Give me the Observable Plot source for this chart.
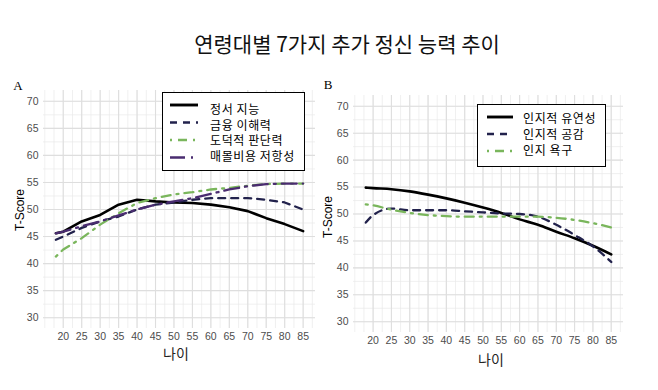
<!DOCTYPE html>
<html><head><meta charset="utf-8">
<script src="https://cdn.jsdelivr.net/npm/d3@7"></script>
<script src="https://cdn.jsdelivr.net/npm/@observablehq/plot@0.6"></script>
<style>
body{margin:0;background:#fff;}
#wrap{position:relative;width:658px;height:390px;overflow:hidden;background:#fff;font-family:"Noto Sans CJK KR","Noto Sans",sans-serif;}
.t{position:absolute;transform:translate(-50%,-50%);white-space:nowrap;line-height:1;}
.plot{position:absolute;}
.legend{position:absolute;background:#fff;border:1.5px solid #000;box-sizing:border-box;}
.lt{position:absolute;white-space:nowrap;line-height:1;transform:translateY(-50%);font-size:12px;letter-spacing:0.6px;color:#000;}
</style></head><body><div id="wrap"></div>
<script>
// ---- data ----
const ages = [18,20,25,30,35,40,45,50,55,60,65,70,75,80,85];
const xTickLabels = [20,25,30,35,40,45,50,55,60,65,70,75,80,85];
const yTickLabels = [30,35,40,45,50,55,60,65,70];

// Panel A
const seriesA = ["정서 지능","금융 이해력","도덕적 판단력","매몰비용 저항성"];
const emotionalIntelligence = [45.6,45.9,47.8,49.0,50.9,51.8,51.5,51.3,51.2,50.9,50.4,49.7,48.4,47.3,46.0];
const financialLiteracy    = [44.4,45.0,46.6,47.8,48.7,50.0,50.9,51.3,51.8,52.1,52.1,52.1,51.8,51.3,50.0];
const moralJudgment        = [41.3,42.6,44.7,47.2,49.3,51.2,52.1,52.8,53.2,53.7,54.0,54.4,54.7,54.8,54.8];
const sunkCostResistance   = [45.6,45.9,46.9,47.8,48.9,50.0,50.9,51.5,52.1,52.9,53.7,54.3,54.7,54.8,54.8];

// Panel B
const seriesB = ["인지적 유연성","인지적 공감","인지 욕구"];
const cognitiveFlexibility = [54.9,54.8,54.6,54.2,53.6,52.9,52.1,51.2,50.2,49.0,48.0,46.7,45.5,44.1,42.5];
const cognitiveEmpathy     = [48.4,49.8,51.0,50.7,50.7,50.7,50.5,50.3,50.1,50.0,49.5,48.0,46.1,44.0,41.1];
const needForCognition     = [51.8,51.6,50.8,50.2,49.8,49.6,49.5,49.5,49.5,49.5,49.5,49.3,48.9,48.3,47.5];

// ---- styles ----
const colors = ["#000000","#22224c","#7ab65c","#4a2c70"];
const dashes = [null,"7,6","2,6,9,6","15,6,2,6"];
const widths = [2.6,2.3,2.3,2.3];

function toRows(series, arrays){
  const rows=[];
  series.forEach((s,i)=>ages.forEach((a,j)=>rows.push({series:s,age:a,value:arrays[i][j]})));
  return rows;
}
const rowsA = toRows(seriesA,[emotionalIntelligence,financialLiteracy,moralJudgment,sunkCostResistance]);
const rowsB = toRows(seriesB,[cognitiveFlexibility,cognitiveEmpathy,needForCognition]);

const xMinor = d3.range(15,88.4,2.5);
const yMinor = d3.range(27.5,72.6,2.5).filter(v=>v>=28&&v<=72);

function panel(rows, series, m, w, h, curve){
  return Plot.plot({
    width:w, height:h,
    marginLeft:m[0], marginRight:m[1], marginTop:m[2], marginBottom:m[3],
    x:{domain:[14.65,88.35], ticks:xTickLabels, tickSize:0, tickPadding:4, label:null},
    y:{domain:[28,72], ticks:yTickLabels, tickSize:0, tickPadding:5, label:null},
    style:{fontFamily:"'Liberation Sans',Arial,sans-serif", fontSize:"10.5px", color:"#4d4d4d", background:"transparent", overflow:"visible"},
    marks:[
      Plot.gridX(xMinor,{stroke:"#e9e9e9",strokeOpacity:1,strokeWidth:0.7}),
      Plot.gridY(yMinor,{stroke:"#e9e9e9",strokeOpacity:1,strokeWidth:0.7}),
      Plot.gridX(xTickLabels,{stroke:"#dedede",strokeOpacity:1,strokeWidth:1.1}),
      Plot.gridY(yTickLabels,{stroke:"#dedede",strokeOpacity:1,strokeWidth:1.1}),
      ...series.map((s,i)=>Plot.line(rows.filter(d=>d.series===s),{
        x:"age", y:"value", stroke:colors[i], strokeWidth:widths[i],
        strokeDasharray:dashes[i], curve:curve
      }))
    ]
  });
}

const wrap = document.getElementById("wrap");
function addText(txt,x,y,style){
  const d=document.createElement("div");d.className="t";d.textContent=txt;
  d.style.left=x+"px";d.style.top=y+"px";Object.assign(d.style,style||{});wrap.appendChild(d);return d;
}

// Panel A: svg at left 0, top 80 ; frame 43..315 x, 90..328 y
const pA = panel(rowsA, seriesA, [43,10,10,42], 325, 290, "linear");
pA.classList.add("plot"); pA.style.left="0px"; pA.style.top="80px";
wrap.appendChild(pA);

// Panel B: svg at left 320, top 80 ; frame 353..623 x, 95..332 y
const pB = panel(rowsB, seriesB, [33,35,15,38], 658-320, 290, "monotone-x");
pB.classList.add("plot"); pB.style.left="320px"; pB.style.top="80px";
wrap.appendChild(pB);

// Titles & labels
addText("연령대별 7가지 추가 정신 능력 추이",347,43,{fontSize:"21px",color:"#111"});
addText("A",18,85,{fontFamily:"'Liberation Serif',serif",fontSize:"13px",color:"#000"});
addText("B",328,84,{fontFamily:"'Liberation Serif',serif",fontSize:"13px",color:"#000"});
addText("T-Score",20,210,{fontFamily:"'Liberation Sans',Arial,sans-serif",fontSize:"12px",color:"#000",transform:"translate(-50%,-50%) rotate(-90deg)"});
addText("T-Score",328,217,{fontFamily:"'Liberation Sans',Arial,sans-serif",fontSize:"12px",color:"#000",transform:"translate(-50%,-50%) rotate(-90deg)"});
addText("나이",176,353,{fontSize:"14px",color:"#222"});
addText("나이",491,359,{fontSize:"14px",color:"#222"});

// Legends
function legend(box, series, idx, sampleX, sampleYs, textX, textYs){
  const d=document.createElement("div");d.className="legend";
  d.style.left=box[0]+"px";d.style.top=box[1]+"px";d.style.width=box[2]+"px";d.style.height=box[3]+"px";
  wrap.appendChild(d);
  const ns="http://www.w3.org/2000/svg";
  const svg=document.createElementNS(ns,"svg");
  svg.setAttribute("width",box[2]);svg.setAttribute("height",box[3]);
  svg.style.position="absolute";svg.style.left="-1.5px";svg.style.top="-1.5px";
  d.appendChild(svg);
  series.forEach((s,k)=>{
    const i=idx[k];
    const l=document.createElementNS(ns,"line");
    l.setAttribute("x1",sampleX[0]-box[0]);l.setAttribute("x2",sampleX[1]-box[0]);
    l.setAttribute("y1",sampleYs[k]-box[1]);l.setAttribute("y2",sampleYs[k]-box[1]);
    l.setAttribute("stroke",colors[i]);l.setAttribute("stroke-width",widths[i]+0.3);
    if(dashes[i]) l.setAttribute("stroke-dasharray",dashes[i]);
    svg.appendChild(l);
    const t=document.createElement("div");t.className="lt";t.textContent=s;
    t.style.left=(textX-box[0])+"px";t.style.top=(textYs[k]-box[1])+"px";
    d.appendChild(t);
  });
}
legend([162,92,143,79], seriesA, [0,1,2,3], [170,198], [105,122.5,140,157.5], 209, [108,123.5,139,154.5]);
legend([477,104,129,63], seriesB, [0,1,2], [487,513], [117,134,151], 522, [117,133,149]);
</script>
</body></html>
